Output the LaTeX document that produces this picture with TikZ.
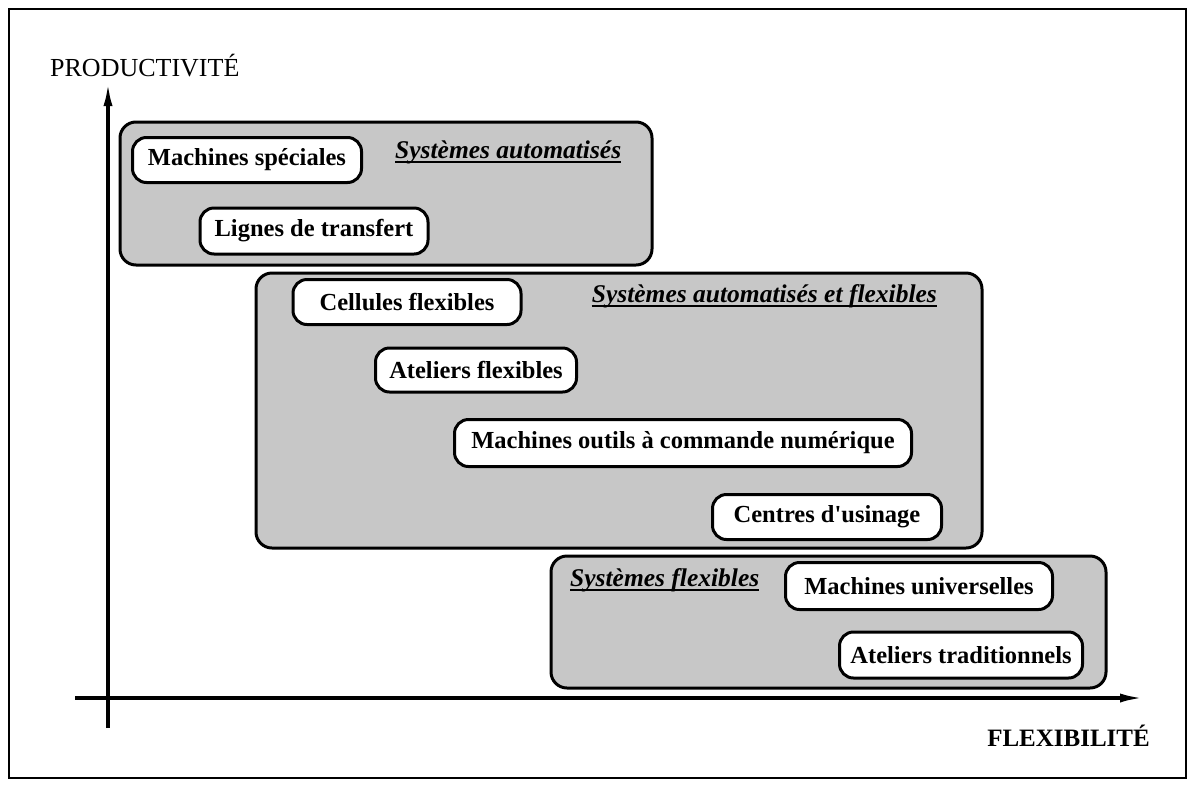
\documentclass[tikz,border=0pt]{standalone}
\usepackage{fontspec}
\setmainfont{Liberation Serif}
\usetikzlibrary{arrows.meta}

\begin{document}
\begin{tikzpicture}
  [x=1pt,y=-1pt,
   item/.style={draw,line width=3pt,rounded corners=14pt,fill=white,
     inner sep=0pt,font=\fontsize{24.5}{28}\selectfont\bfseries},
   group/.style={draw,line width=3pt,rounded corners=16pt,fill=black!22},
   heading/.style={inner sep=0pt,font=\fontsize{25.5}{28}\selectfont\bfseries\itshape},
   uline/.style={line width=1.8pt},
   axis/.style={line width=3.4pt,-{Latex[length=24pt,width=9pt]}},
   axislabel/.style={inner sep=0pt,font=\fontsize{26}{28}\selectfont}]
  \useasboundingbox (0,0) rectangle (1190,785);
  \draw[line width=2pt] (9,9) rectangle (1186,778);

  % zones
  \draw[group] (120,122) rectangle (652,265);
  \draw[group] (256,273) rectangle (982,548);
  \draw[group] (551,556) rectangle (1106,688);

  % axes
  \coordinate (ybot) at (108,728);
  \coordinate (ytop) at (108,82);
  \coordinate (xleft) at (75,698);
  \coordinate (xright) at (1144,698);
  \draw[axis] (ybot) -- (ytop);
  \draw[axis] (xleft) -- (xright);
  \node[axislabel,anchor=west] (prod) at (50,66) {PRODUCTIVITÉ};
  \node[axislabel,anchor=east,font=\fontsize{25}{28}\selectfont\bfseries] (flex) at (1150,736) {FLEXIBILITÉ};

  % titres
  \node[heading,anchor=base west] (h1) at (395,158) {Systèmes automatisés};
  \node[heading,anchor=base east] (h2) at (937,302) {Systèmes automatisés et flexibles};
  \node[heading,anchor=base west] (h3) at (570,586) {Systèmes flexibles};
  \foreach \h in {h1,h2,h3}
    \draw[uline] ([yshift=-4pt]\h.base west) -- ([yshift=-4pt]\h.base east);

  % moyens
  \node[item,minimum width=229pt,minimum height=45pt] (ms) at (247,160) {Machines spéciales};
  \node[item,minimum width=228pt,minimum height=46pt] (lt) at (314,231) {Lignes de transfert};
  \node[item,minimum width=228pt,minimum height=45pt] (cf) at (407,302) {Cellules flexibles};
  \node[item,minimum width=201pt,minimum height=44pt] (af) at (476,370) {Ateliers flexibles};
  \node[item,minimum width=457pt,minimum height=47pt] (mo) at (683,443) {Machines outils à commande numérique};
  \node[item,minimum width=229pt,minimum height=45pt] (cu) at (827,517) {Centres d\textquotesingle usinage};
  \node[item,minimum width=267pt,minimum height=47pt] (mu) at (919,586) {Machines universelles};
  \node[item,minimum width=243pt,minimum height=46pt] (at) at (961,655) {Ateliers traditionnels};

\end{tikzpicture}
\end{document}
